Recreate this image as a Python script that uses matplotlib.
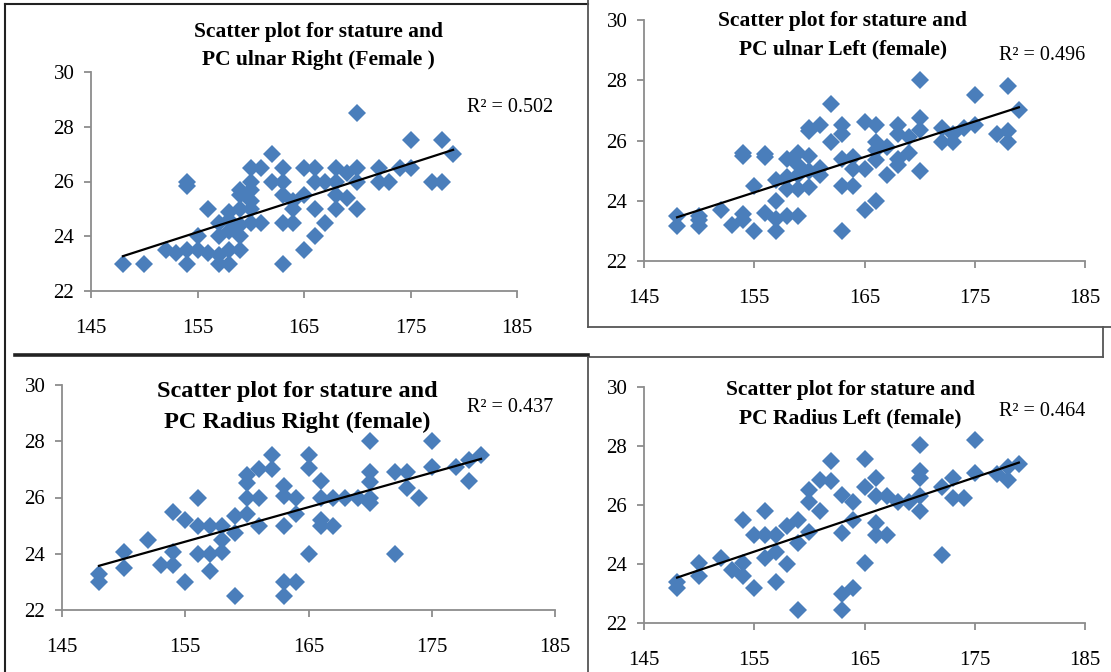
import numpy as np
import matplotlib
matplotlib.use("Agg")
import matplotlib.pyplot as plt
from matplotlib.lines import Line2D

# stature (cm) vs PC length (cm)
ulnar_r_x = [148, 150, 152, 153, 154, 154, 154, 154, 155, 155, 156, 156, 157, 157, 157, 157,
             158, 158, 158, 158, 158, 159, 159, 159, 159, 159, 159, 160, 160, 160, 160, 160, 160,
             161, 161, 162, 162, 163, 163, 163, 163, 163, 164, 164, 164, 165, 165, 165,
             166, 166, 166, 166, 167, 167, 168, 168, 168, 168, 169, 169, 170, 170, 170, 170,
             172, 172, 173, 174, 175, 175, 177, 178, 178, 179]
ulnar_r_y = [23, 23, 23.5, 23.4, 23, 23.5, 26, 25.85, 24, 23.5, 25, 23.4, 23, 23.3, 24, 24.5,
             23, 23.5, 24.2, 24.6, 24.9, 23.5, 24, 24.4, 25, 25.5, 25.7, 24.5, 25, 25.3, 25.7, 26, 26.5,
             24.5, 26.5, 26, 27, 26.5, 26, 25.5, 24.5, 23, 25, 24.5, 25.3, 26.5, 25.5, 23.5,
             26.5, 26, 25, 24, 26, 24.5, 26.5, 26, 25.5, 25, 26.3, 25.4, 28.5, 26.5, 26, 25,
             26.5, 26, 26, 26.5, 27.5, 26.5, 26, 27.5, 26, 27]

ulnar_l_x = [148, 148, 150, 150, 150, 152, 153, 154, 154, 154, 154, 155, 155, 156, 156, 156,
             157, 157, 157, 157, 158, 158, 158, 158, 159, 159, 159, 159, 159, 160, 160, 160, 160, 160,
             161, 161, 161, 162, 162, 163, 163, 163, 163, 163, 164, 164, 164, 165, 165, 165,
             166, 166, 166, 166, 166, 167, 167, 168, 168, 168, 168, 169, 169, 170, 170, 170, 170,
             172, 172, 173, 173, 174, 175, 175, 177, 178, 178, 178, 179]
ulnar_l_y = [23.5, 23.15, 23.5, 23.15, 23.35, 23.7, 23.2, 23.55, 23.35, 25.5, 25.6, 23, 24.5, 23.6, 25.45, 25.55,
             24, 24.7, 23.4, 23, 23.5, 24.4, 25.4, 24.8, 23.5, 25.6, 24.85, 24.4, 25.2, 26.4, 26.3, 25.5, 24.45, 25,
             26.5, 24.85, 25.1, 27.2, 25.95, 26.5, 26.2, 25.4, 24.5, 23, 25.45, 24.5, 25.05, 26.6, 25.05, 23.7,
             26.5, 25.95, 25.7, 25.35, 24, 25.8, 24.85, 26.5, 26.2, 25.4, 25.2, 25.6, 26.1, 28, 26.75, 26.35, 25,
             26.4, 25.95, 26.2, 25.95, 26.4, 27.5, 26.5, 26.2, 27.8, 26.3, 25.95, 27.0]

radius_r_x = [148, 148, 150, 150, 152, 153, 154, 154, 154, 155, 155, 156, 156, 156, 157, 157, 157,
              158, 158, 158, 159, 159, 159, 160, 160, 160, 160, 161, 161, 161, 162, 162,
              163, 163, 163, 163, 163, 164, 164, 164, 165, 165, 165, 166, 166, 166, 166, 167, 167,
              168, 169, 170, 170, 170, 170, 170, 172, 172, 173, 173, 174, 175, 175, 177, 178, 178, 179]
radius_r_y = [23.28, 22.98, 24.05, 23.5, 24.5, 23.6, 25.5, 24.05, 23.6, 23, 25.2, 26, 25, 24, 25, 24, 23.4,
              25, 24.05, 24.5, 25.35, 22.5, 24.75, 25.4, 26, 26.8, 26.5, 27, 26, 25, 27.5, 27,
              26.4, 26.05, 25, 23, 22.5, 26, 25.4, 23, 27.5, 27.05, 24, 26.6, 26, 25.2, 25, 26, 25,
              26, 26, 28, 26.9, 26.55, 26, 25.8, 26.9, 24, 26.9, 26.35, 26, 28, 27.1, 27.1, 27.35, 26.6, 27.5]

radius_l_x = [148, 148, 150, 150, 152, 153, 154, 154, 154, 155, 155, 156, 156, 156, 157, 157, 157,
              158, 158, 159, 159, 159, 160, 160, 160, 161, 161, 162, 162, 163, 163, 163, 163,
              164, 164, 164, 165, 165, 165, 166, 166, 166, 166, 167, 167, 168, 169,
              170, 170, 170, 170, 170, 172, 172, 173, 173, 174, 175, 175, 177, 178, 178, 179]
radius_l_y = [23.4, 23.2, 24.04, 23.6, 24.2, 23.8, 25.5, 24.04, 23.6, 23.2, 25, 25.8, 25, 24.2, 25, 24.4, 23.4,
              25.3, 24, 22.45, 24.7, 25.5, 26.5, 26.1, 25.1, 26.85, 25.8, 27.5, 26.8, 26.35, 25.05, 23.0, 22.45,
              26.1, 25.5, 23.2, 27.55, 24.04, 26.6, 26.9, 26.3, 25.4, 25, 26.3, 25, 26.1, 26.1,
              28.05, 27.15, 26.9, 25.8, 26.3, 26.6, 24.3, 26.9, 26.25, 26.25, 28.2, 27.1, 27.05, 27.3, 26.85, 27.4]

titles = [["Scatter plot for stature and", "PC ulnar Right (Female )"],
          ["Scatter plot for stature and", "PC ulnar Left (female)"],
          ["Scatter plot for stature and", "PC Radius Right (female)"],
          ["Scatter plot for stature and", "PC Radius Left (female)"]]
r2_labels = ["R\u00b2 = 0.502", "R\u00b2 = 0.496", "R\u00b2 = 0.437", "R\u00b2 = 0.464"]
x_ticks = [145, 155, 165, 175, 185]
y_ticks = [22, 24, 26, 28, 30]

W, H = 1111, 672
plt.rcParams["font.family"] = ["Liberation Serif", "DejaVu Serif"]

fig = plt.figure(figsize=(W / 100, H / 100), dpi=100)


def fig_line(xs, ys, lw=1.2, color="#333333"):
    fig.add_artist(Line2D([x / W for x in xs], [1 - y / H for y in ys],
                          transform=fig.transFigure, lw=lw, color=color))


def fig_text(x, y, s, **kw):
    fig.text(x / W, 1 - y / H, s, ha="center", va="center", **kw)


# (x_left, x_right, y_top, y_bottom) of each plot area in pixels
boxes = [(91, 517, 72, 291), (644, 1085, 20, 261), (62, 555, 385, 610), (644, 1085, 387, 623)]
title_pos = [(318, 32, 60, 15.5), (843, 21, 49, 15.5), (297, 392, 422, 17.5), (850, 390, 418, 15.5)]
r2_pos = [(510, 108), (1042, 55), (510, 408), (1042, 412)]
data = [(ulnar_r_x, ulnar_r_y), (ulnar_l_x, ulnar_l_y), (radius_r_x, radius_r_y), (radius_l_x, radius_l_y)]

for i in range(4):
    x0, x1, yt, yb = boxes[i]
    ax = fig.add_axes([x0 / W, 1 - yb / H, (x1 - x0) / W, (yb - yt) / H])
    xs, ys = np.array(data[i][0]), np.array(data[i][1])
    ax.plot(xs, ys, "D", color="#4A7EBB", markersize=9.2, markeredgewidth=0, clip_on=False, zorder=2)
    k, b = np.polyfit(xs, ys, 1)
    lx = np.array([xs.min(), xs.max()])
    ax.plot(lx, k * lx + b, color="black", lw=1.6, zorder=3, clip_on=False)
    ax.set_xlim(145, 185)
    ax.set_ylim(22, 30)
    ax.set_xticks(x_ticks)
    ax.set_yticks(y_ticks)
    for s in ["top", "right"]:
        ax.spines[s].set_visible(False)
    for s in ["left", "bottom"]:
        ax.spines[s].set_color("#8c8c8c")
        ax.spines[s].set_linewidth(1.3)
    ax.tick_params(axis="both", direction="out", length=5, width=1.3, color="#8c8c8c", labelsize=15)
    ax.tick_params(axis="x", pad=15)
    ax.tick_params(axis="y", pad=7)
    ax.patch.set_alpha(0)

    tx, ty1, ty2, fs = title_pos[i]
    fig_text(tx, ty1, titles[i][0], fontsize=fs, fontweight="bold")
    fig_text(tx, ty2, titles[i][1], fontsize=fs, fontweight="bold")
    fig_text(r2_pos[i][0], r2_pos[i][1], r2_labels[i], fontsize=14.5)

# panel frames from the pasted figure
fig_line([5, 5], [4, 672], lw=1.5, color="#222222")
fig_line([5, 588], [4, 4], lw=1.5, color="#222222")
fig_line([588, 588], [0, 327], lw=1.3, color="#555555")
fig_line([588, 1111], [327, 327], lw=1.3, color="#555555")
fig_line([1103, 1103], [327, 357], lw=1.3, color="#555555")
fig_line([588, 1103], [357, 357], lw=1.3, color="#555555")
fig_line([15, 588], [355, 355], lw=2.6, color="#222222")
fig_line([588, 588], [357, 672], lw=1.3, color="#555555")

fig.savefig("out.png", dpi=100)
